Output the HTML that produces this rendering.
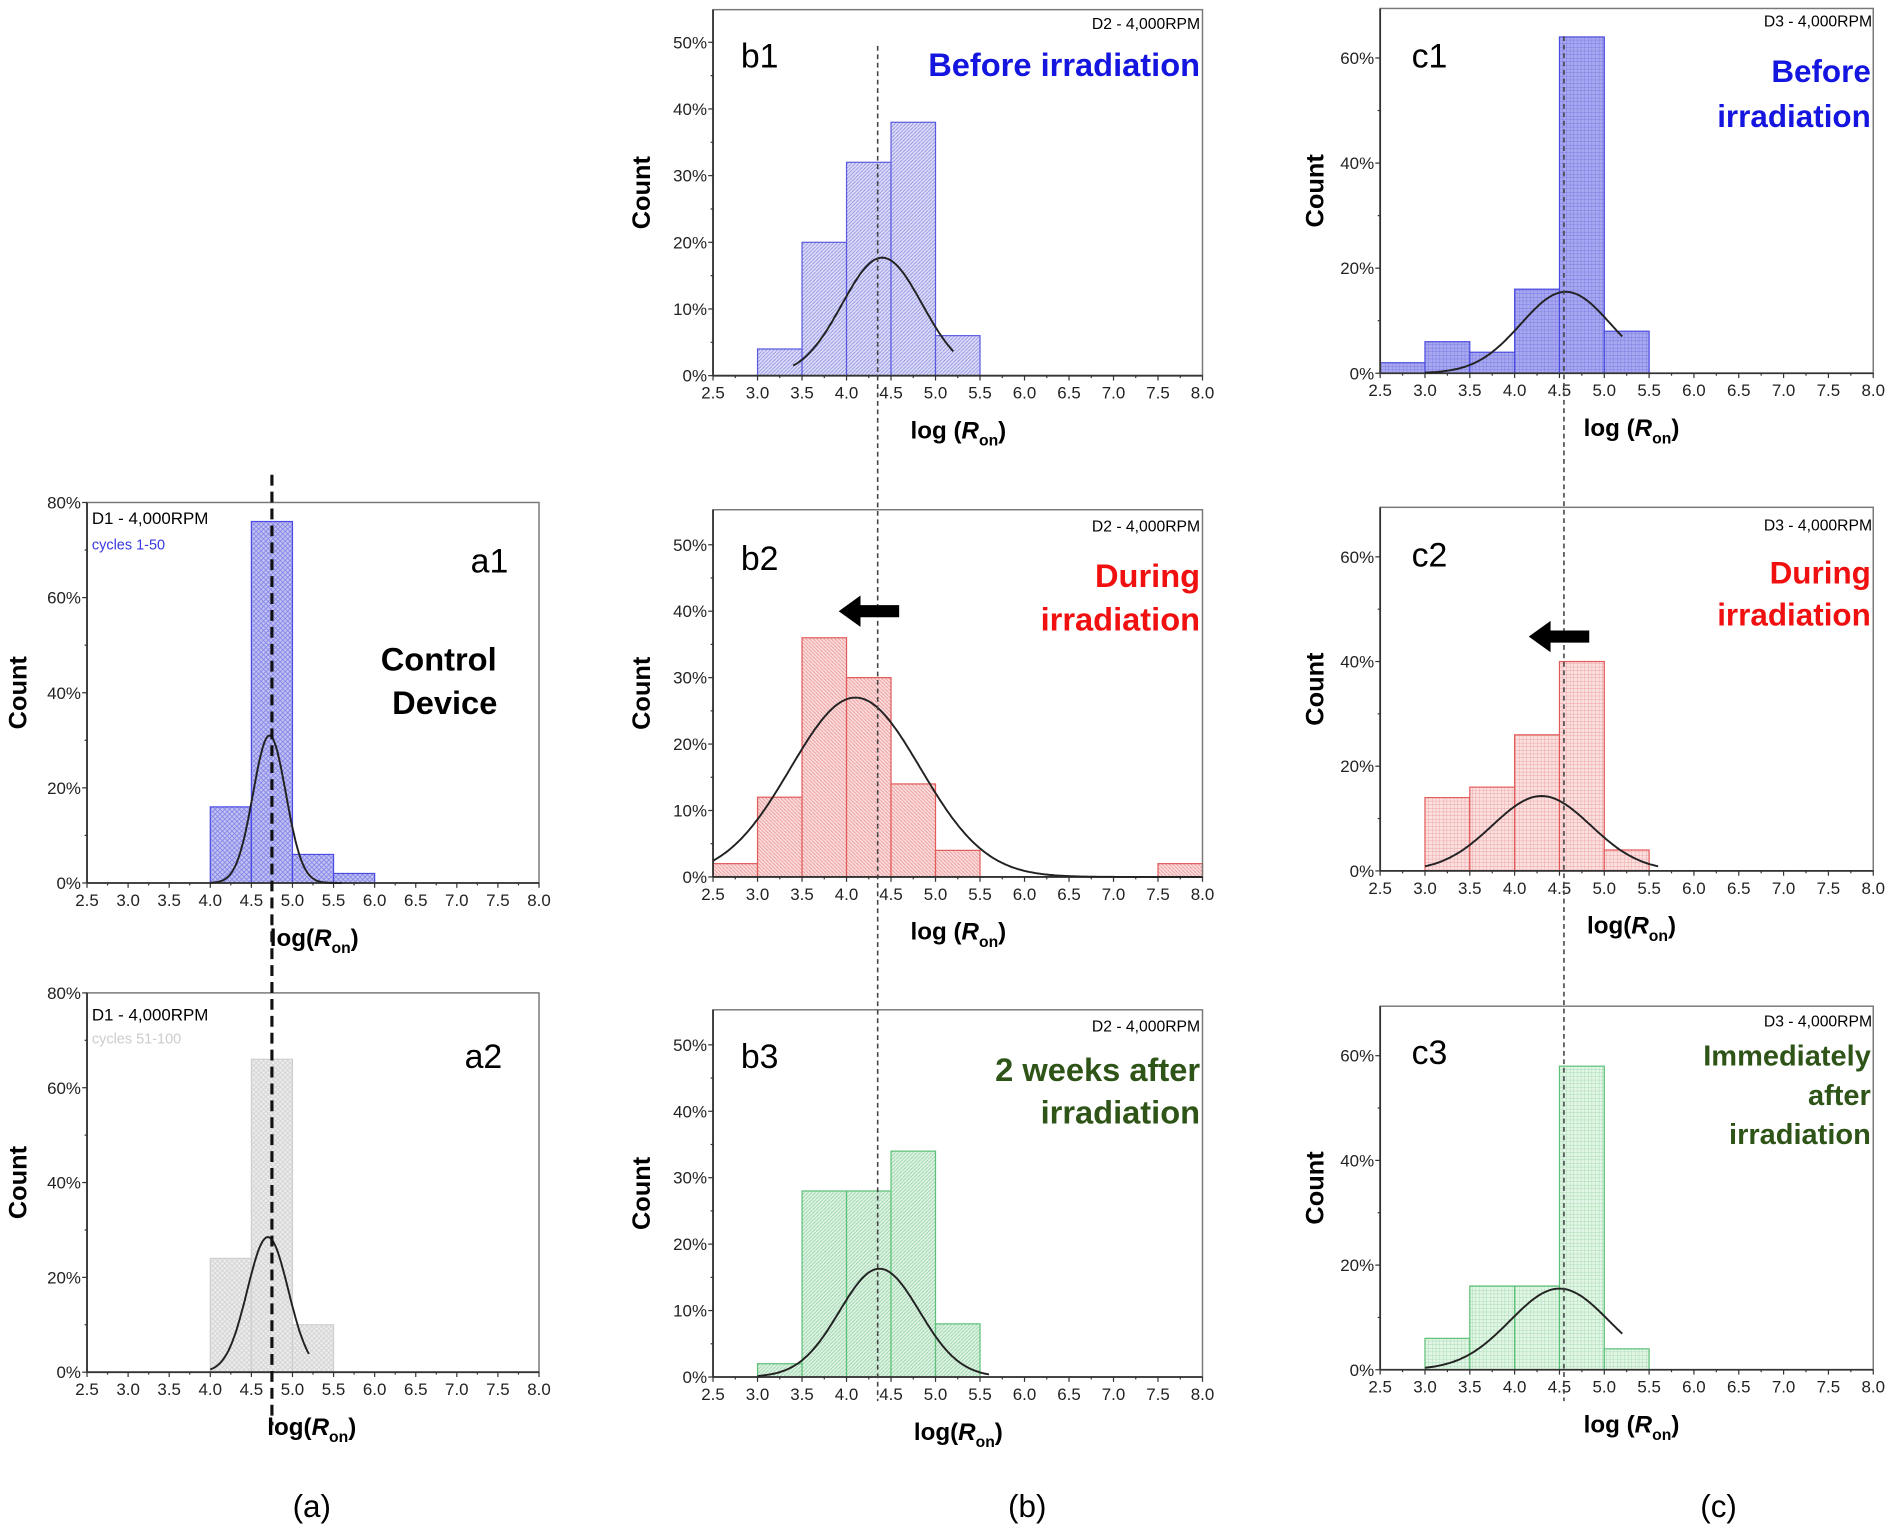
<!DOCTYPE html>
<html><head><meta charset="utf-8">
<style>
html,body{margin:0;padding:0;background:#fff;}
svg{display:block;}
text{font-family:"Liberation Sans",sans-serif;}
</style></head>
<body>
<svg id="s" width="1895" height="1528" viewBox="0 0 1568 1265" preserveAspectRatio="none" xmlns="http://www.w3.org/2000/svg">
<defs>
<pattern id="pBlueX" width="4" height="4" patternUnits="userSpaceOnUse"><rect width="4" height="4" fill="#c2c2f2"/><path d="M0 0L4 4M4 0L0 4" stroke="#7a7ae6" stroke-width="0.6"/></pattern>
<pattern id="pGrayX" width="4" height="4" patternUnits="userSpaceOnUse"><rect width="4" height="4" fill="#ececec"/><path d="M0 0L4 4M4 0L0 4" stroke="#cfcfcf" stroke-width="0.6"/></pattern>
<pattern id="pBlueD" width="3" height="3" patternUnits="userSpaceOnUse"><rect width="3" height="3" fill="#dcdcf8"/><path d="M0 3L3 0" stroke="#8888e0" stroke-width="0.6"/></pattern>
<pattern id="pRedD" width="3" height="3" patternUnits="userSpaceOnUse"><rect width="3" height="3" fill="#fbdcdc"/><path d="M0 0L3 3" stroke="#e89090" stroke-width="0.6"/></pattern>
<pattern id="pGreenD" width="3" height="3" patternUnits="userSpaceOnUse"><rect width="3" height="3" fill="#dff3e4"/><path d="M0 3L3 0" stroke="#8fd0a0" stroke-width="0.6"/></pattern>
<pattern id="pBlueG" width="3" height="3" patternUnits="userSpaceOnUse"><rect width="3" height="3" fill="#a8a8f0"/><path d="M0 0H3M0 0V3" stroke="#6a6ae0" stroke-width="0.5"/></pattern>
<pattern id="pRedG" width="3" height="3" patternUnits="userSpaceOnUse"><rect width="3" height="3" fill="#fbe0e0"/><path d="M0 0H3M0 0V3" stroke="#e88a8a" stroke-width="0.5"/></pattern>
<pattern id="pGreenG" width="3" height="3" patternUnits="userSpaceOnUse"><rect width="3" height="3" fill="#e2f5e6"/><path d="M0 0H3M0 0V3" stroke="#8ed49c" stroke-width="0.5"/></pattern>
</defs>
<g id="g"></g>
</svg>
<script>
var g=document.getElementById('g');var NS='http://www.w3.org/2000/svg';
function el(t,a,txt){var e=document.createElementNS(NS,t);for(var k in a)e.setAttribute(k,a[k]);if(txt!==undefined)e.textContent=txt;g.appendChild(e);return e;}
function tx(x,y,s,a){a=a||{};var e=el('text',Object.assign({x:x,y:y},a));e.innerHTML=s;return e;}
function panel(o){
 var X=function(v){return o.x0+(v-2.5)*(o.x1-o.x0)/5.5;};
 var Y=function(p){return o.y0-p*o.ppp;};
 o.bars.forEach(function(b){var l=X(b[0]),r=X(b[0]+0.5),t=Y(b[1]);el('rect',{x:l,y:t,width:r-l,height:o.y0-t,fill:'url(#'+o.pat+')',stroke:o.stroke,'stroke-width':1});});
 el('rect',{x:o.x0,y:o.top,width:o.x1-o.x0,height:o.y0-o.top,fill:'none',stroke:'#777','stroke-width':1.2});
 el('line',{x1:o.x0,y1:o.y0,x2:o.x1,y2:o.y0,stroke:'#333','stroke-width':1.5});
 el('line',{x1:o.x0,y1:o.y0,x2:o.x0,y2:o.top,stroke:'#333','stroke-width':1.5});
 for(var v=2.5;v<=8.001;v+=0.5){var x=X(v);el('line',{x1:x,y1:o.y0,x2:x,y2:o.y0+4,stroke:'#333'});tx(x,o.y0+19,v.toFixed(1),{'font-size':14,'text-anchor':'middle',fill:'#222'});}
 for(var v=2.75;v<8;v+=0.5){var x=X(v);el('line',{x1:x,y1:o.y0,x2:x,y2:o.y0+2,stroke:'#333'});}
 for(var p=0;p<=o.ymax;p+=o.ystep){var y=Y(p);el('line',{x1:o.x0-4,y1:y,x2:o.x0,y2:y,stroke:'#333'});tx(o.x0-5,y+5,p+'%',{'font-size':14,'text-anchor':'end',fill:'#222'});
  if(p+o.ystep/2<=o.ymax+0.01){var ym=Y(p+o.ystep/2);el('line',{x1:o.x0-2,y1:ym,x2:o.x0,y2:ym,stroke:'#333'});}}
 var d='';for(var v=o.g[3];v<=o.g[4]+1e-6;v+=0.02){var p=o.g[1]*Math.exp(-0.5*Math.pow((v-o.g[0])/o.g[2],2));d+=(d?'L':'M')+X(v).toFixed(1)+' '+Y(p).toFixed(1);}
 el('path',{d:d,fill:'none',stroke:'#222','stroke-width':1.6});
 el('text',{x:0,y:0,'font-size':21,'font-weight':'bold','text-anchor':'middle',transform:'translate('+o.cx+','+((o.top+o.y0)/2)+') rotate(-90)'},'Count');
 tx(o.lx,o.y0+52,o.lt,{'font-size':20,'font-weight':'bold','text-anchor':'middle'});
 return X;
}
var logS='log (<tspan font-style="italic">R</tspan><tspan font-size="13" dy="6">on</tspan><tspan dy="-6">)</tspan>';
var logN='log(<tspan font-style="italic">R</tspan><tspan font-size="13" dy="6">on</tspan><tspan dy="-6">)</tspan>';
panel({x0:72,x1:446,top:416,y0:731,ppp:315/80,ymax:80,ystep:20,pat:'pBlueX',stroke:'#4a4ae6',bars:[[4,16],[4.5,76],[5,6],[5.5,2]],g:[4.72,31,0.2,4.0,5.6],cx:22,lx:260,lt:logN});
panel({x0:72,x1:446,top:822,y0:1136,ppp:314/80,ymax:80,ystep:20,pat:'pGrayX',stroke:'#cfcfcf',bars:[[4,24],[4.5,66],[5,10]],g:[4.7,28.5,0.25,4.0,5.2],cx:22,lx:258,lt:logN});
var bx0=590,bx1=995;
panel({x0:bx0,x1:bx1,top:8,y0:311,ppp:5.52,ymax:50,ystep:10,pat:'pBlueD',stroke:'#5a5ae0',bars:[[3,4],[3.5,20],[4,32],[4.5,38],[5,6]],g:[4.4,17.7,0.45,3.4,5.2],cx:538,lx:793,lt:logS});
panel({x0:bx0,x1:bx1,top:422,y0:726,ppp:5.5,ymax:50,ystep:10,pat:'pRedD',stroke:'#e25a5a',bars:[[2.5,2],[3,12],[3.5,36],[4,30],[4.5,14],[5,4],[7.5,2]],g:[4.1,27,0.73,2.5,8.0],cx:538,lx:793,lt:logS});
panel({x0:bx0,x1:bx1,top:836,y0:1140,ppp:5.5,ymax:50,ystep:10,pat:'pGreenD',stroke:'#5cc078',bars:[[3,2],[3.5,28],[4,28],[4.5,34],[5,8]],g:[4.37,16.3,0.45,3.0,5.6],cx:538,lx:793,lt:logN});
var cx0=1142,cx1=1550;
panel({x0:cx0,x1:cx1,top:7,y0:309,ppp:261/60,ymax:60,ystep:20,pat:'pBlueG',stroke:'#4a4ae0',bars:[[2.5,2],[3,6],[3.5,4],[4,16],[4.5,64],[5,8]],g:[4.57,15.5,0.5,3.0,5.2],cx:1095,lx:1350,lt:logS});
panel({x0:cx0,x1:cx1,top:420,y0:721,ppp:260/60,ymax:60,ystep:20,pat:'pRedG',stroke:'#e25a5a',bars:[[3,14],[3.5,16],[4,26],[4.5,40],[5,4]],g:[4.3,14.3,0.55,3.0,5.6],cx:1095,lx:1350,lt:logN});
panel({x0:cx0,x1:cx1,top:833,y0:1134,ppp:260/60,ymax:60,ystep:20,pat:'pGreenG',stroke:'#5cc078',bars:[[3,6],[3.5,16],[4,16],[4.5,58],[5,4]],g:[4.5,15.5,0.55,3.0,5.2],cx:1095,lx:1350,lt:logS});
el('line',{x1:225,y1:393,x2:225,y2:1180,stroke:'#111','stroke-width':2.6,'stroke-dasharray':'9,5'});
var bxd=bx0+1.85*(bx1-bx0)/5.5;el('line',{x1:bxd,y1:38,x2:bxd,y2:1160,stroke:'#444','stroke-width':1.3,'stroke-dasharray':'4,3'});
var cxd=cx0+2.05*(cx1-cx0)/5.5;el('line',{x1:cxd,y1:30,x2:cxd,y2:1160,stroke:'#444','stroke-width':1.3,'stroke-dasharray':'4,3'});
tx(76,434,'D1 - 4,000RPM',{'font-size':14});
tx(76,455,'cycles 1-50',{'font-size':12,fill:'#3a3ae0'});
tx(405,474,'a1',{'font-size':28,'text-anchor':'middle'});
tx(363,555,'Control',{'font-size':27,'font-weight':'bold','text-anchor':'middle'});
tx(368,591,'Device',{'font-size':27,'font-weight':'bold','text-anchor':'middle'});
tx(76,845,'D1 - 4,000RPM',{'font-size':14});
tx(76,864,'cycles 51-100',{'font-size':12,fill:'#cccccc'});
tx(400,884,'a2',{'font-size':28,'text-anchor':'middle'});
tx(993,24,'D2 - 4,000RPM',{'font-size':13,'text-anchor':'end'});
tx(993,440,'D2 - 4,000RPM',{'font-size':13,'text-anchor':'end'});
tx(993,854,'D2 - 4,000RPM',{'font-size':13,'text-anchor':'end'});
tx(613,56,'b1',{'font-size':28});tx(613,472,'b2',{'font-size':28});tx(613,884,'b3',{'font-size':28});
tx(993,63,'Before irradiation',{'font-size':27,'font-weight':'bold','text-anchor':'end',fill:'#1515e0'});
tx(993,486,'During',{'font-size':27,'font-weight':'bold','text-anchor':'end',fill:'#f01010'});
tx(993,522,'irradiation',{'font-size':27,'font-weight':'bold','text-anchor':'end',fill:'#f01010'});
tx(993,895,'2 weeks after',{'font-size':27,'font-weight':'bold','text-anchor':'end',fill:'#2e5418'});
tx(993,930,'irradiation',{'font-size':27,'font-weight':'bold','text-anchor':'end',fill:'#2e5418'});
tx(1549,22,'D3 - 4,000RPM',{'font-size':13,'text-anchor':'end'});
tx(1549,439,'D3 - 4,000RPM',{'font-size':13,'text-anchor':'end'});
tx(1549,850,'D3 - 4,000RPM',{'font-size':13,'text-anchor':'end'});
tx(1168,56,'c1',{'font-size':28});tx(1168,469,'c2',{'font-size':28});tx(1168,881,'c3',{'font-size':28});
tx(1548,68,'Before',{'font-size':26,'font-weight':'bold','text-anchor':'end',fill:'#1515e0'});
tx(1548,105,'irradiation',{'font-size':26,'font-weight':'bold','text-anchor':'end',fill:'#1515e0'});
tx(1548,483,'During',{'font-size':26,'font-weight':'bold','text-anchor':'end',fill:'#f01010'});
tx(1548,518,'irradiation',{'font-size':26,'font-weight':'bold','text-anchor':'end',fill:'#f01010'});
tx(1548,882,'Immediately',{'font-size':24,'font-weight':'bold','text-anchor':'end',fill:'#2e5418'});
tx(1548,915,'after',{'font-size':24,'font-weight':'bold','text-anchor':'end',fill:'#2e5418'});
tx(1548,947,'irradiation',{'font-size':24,'font-weight':'bold','text-anchor':'end',fill:'#2e5418'});
function arrow(x,y){el('path',{d:'M'+x+' '+y+' l18 -13 v8 h32 v10 h-32 v8 z',fill:'#000'});}
arrow(694,506);arrow(1265,527);
tx(258,1256,'(a)',{'font-size':26,'text-anchor':'middle'});
tx(850,1256,'(b)',{'font-size':26,'text-anchor':'middle'});
tx(1422,1256,'(c)',{'font-size':26,'text-anchor':'middle'});
</script>
</body></html>
